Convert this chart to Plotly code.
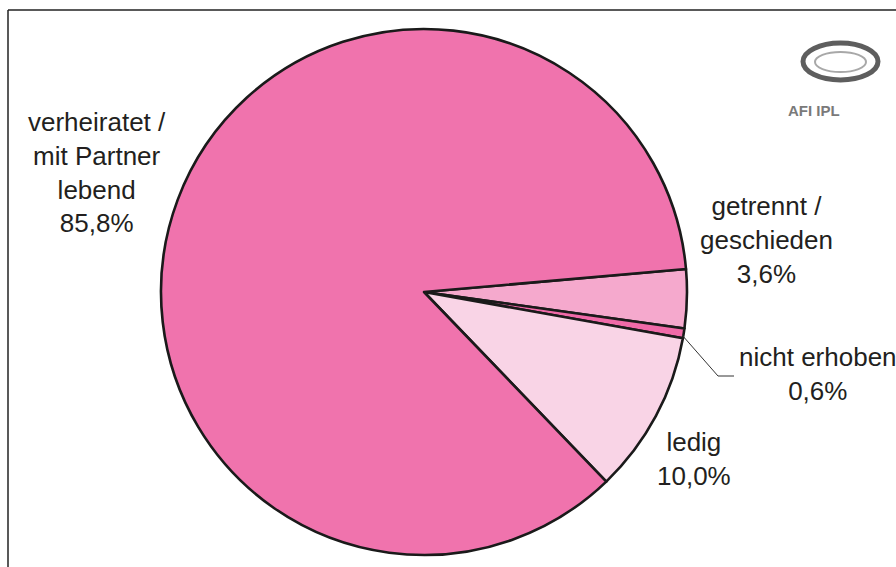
import plotly.graph_objects as go

labels = ["getrennt / geschieden", "nicht erhoben", "ledig", "verheiratet / mit Partner lebend"]
values = [3.6, 0.6, 10.0, 85.8]
colors = ["#F5A9CD", "#F06AA8", "#F9D4E6", "#F073AD"]
label_texts = ["getrennt /<br>geschieden<br>3,6%", "nicht erhoben<br>0,6%", "ledig<br>10,0%",
               "verheiratet /<br>mit Partner<br>lebend<br>85,8%"]
label_pos = [(766, 240), (818, 374), (694, 459), (97, 172)]

W, H = 896, 567
cx, cy, r = 424, 292, 263

fig = go.Figure(go.Pie(
    labels=labels, values=values, sort=False, direction="clockwise", rotation=85,
    marker=dict(colors=colors, line=dict(color="#1a1a1a", width=2.6)),
    textinfo="none", hoverinfo="label+percent", showlegend=False,
    domain=dict(x=[(cx - r) / W, (cx + r) / W], y=[(H - cy - r) / H, (H - cy + r) / H]),
))

annotations = []
for t, (x, y) in zip(label_texts, label_pos):
    annotations.append(dict(x=x / W, y=1 - y / H, xref="paper", yref="paper", text=t,
                            showarrow=False, xanchor="center", yanchor="middle",
                            font=dict(family="Liberation Sans, Arial", size=26, color="#231f20")))
annotations.append(dict(x=842 / W, y=1 - 100 / H, xref="paper", yref="paper", text="<b>AFI IPL</b>",
                        showarrow=False, font=dict(family="Liberation Sans, Arial", size=15, color="#7a7a7a")))

shapes = [
    dict(type="line", xref="paper", yref="paper", x0=8 / W, x1=1.01, y0=1 - 10 / H, y1=1 - 10 / H,
         line=dict(color="#222", width=1.5)),
    dict(type="line", xref="paper", yref="paper", x0=8 / W, x1=8 / W, y0=-0.01, y1=1 - 10 / H,
         line=dict(color="#222", width=1.5)),
    # leader line for "nicht erhoben"
    dict(type="path", xref="paper", yref="paper",
         path=f"M {682 / W} {1 - 335 / H} L {718 / W} {1 - 376 / H} L {734 / W} {1 - 376 / H}",
         line=dict(color="#333", width=1)),
    # logo swirl
    dict(type="circle", xref="paper", yref="paper", x0=803 / W, x1=878 / W, y0=1 - 80 / H, y1=1 - 43 / H,
         line=dict(color="#5e5e5e", width=5)),
    dict(type="circle", xref="paper", yref="paper", x0=815 / W, x1=866 / W, y0=1 - 72 / H, y1=1 - 52 / H,
         line=dict(color="#a8a8a8", width=2)),
]

fig.update_layout(width=W, height=H, margin=dict(l=0, r=0, t=0, b=0),
                  paper_bgcolor="white", plot_bgcolor="white",
                  annotations=annotations, shapes=shapes)
fig.write_html("out.html")
